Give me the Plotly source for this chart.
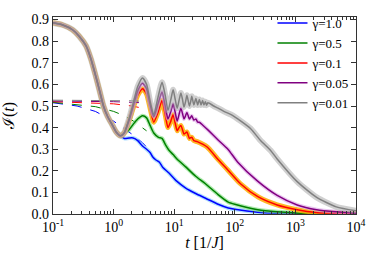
import plotly.graph_objects as go

# ---------------- data ----------------
GAMMA_LABELS = ["γ=1.0", "γ=0.5", "γ=0.1", "γ=0.05", "γ=0.01"]

# shared early-time part of all curves
T_EARLY = [0.1, 0.145, 0.21, 0.27, 0.35, 0.42, 0.475, 0.54, 0.6, 0.68, 0.8, 0.94, 1.1, 1.3]
I_EARLY = [0.885, 0.875, 0.853, 0.823, 0.779, 0.72, 0.668, 0.61, 0.56, 0.5, 0.45, 0.415, 0.38, 0.362]

T_BLUE = [1.5, 1.8, 2.1, 2.5, 3.0, 3.5, 4.0, 4.4, 5.0, 5.7, 6.5, 8.2, 11, 15.5, 22.6, 33, 53, 78, 100,
          240, 500, 1000, 3000, 10000]
I_BLUE = [0.35, 0.352, 0.352, 0.34, 0.315, 0.30, 0.285, 0.265, 0.25, 0.24, 0.215, 0.19, 0.152, 0.12,
          0.095, 0.073, 0.045, 0.028, 0.022, 0.008, 0.004, 0.002, 0.001, 0.0]

T_GREEN = [1.5, 1.8, 2.1, 2.5, 3.0, 3.5, 4.0, 4.6, 5.5, 6.3, 7.2, 8.2, 9.6, 11.1, 15.5, 22.6, 32.8,
           53, 78, 100, 240, 500, 1000, 3000, 10000]
I_GREEN = [0.375, 0.39, 0.415, 0.44, 0.455, 0.445, 0.41, 0.375, 0.355, 0.35, 0.32, 0.295, 0.275,
           0.255, 0.218, 0.175, 0.14, 0.09, 0.055, 0.045, 0.02, 0.01, 0.005, 0.002, 0.001]

T_RED = [1.5, 1.8, 2.1, 2.5, 3.0, 3.5, 4.0, 4.6, 5.4, 6.3, 7.1, 7.9, 8.8, 9.6, 10.4, 11.2, 12.0, 12.9,
         13.7, 14.5, 15.4, 16.2, 17.0, 17.8, 18.7, 19.5, 21.1, 24, 35, 52, 76, 124, 240, 500, 1070,
         2240, 4700, 10000]
I_RED = [0.375, 0.43, 0.49, 0.55, 0.58, 0.555, 0.49, 0.425, 0.47, 0.525, 0.46, 0.40, 0.43, 0.46, 0.42,
         0.385, 0.40, 0.41, 0.39, 0.37, 0.375, 0.38, 0.365, 0.35, 0.353, 0.355, 0.34, 0.335, 0.31,
         0.255, 0.205, 0.14, 0.08, 0.042, 0.02, 0.007, 0.003, 0.001]

T_PURPLE = [1.5, 1.8, 2.1, 2.5, 3.0, 3.5, 4.0, 4.6, 5.4, 6.3, 7.1, 7.9, 8.8, 9.6, 10.4, 11.2, 12.0,
            12.9, 13.7, 14.5, 15.4, 16.2, 17.0, 17.8, 18.7, 19.5, 21.1, 22.8, 24.4, 26, 30, 36.7, 53,
            77, 112, 238, 500, 1070, 2240, 4730, 10000]
I_PURPLE = [0.375, 0.435, 0.50, 0.57, 0.605, 0.58, 0.51, 0.45, 0.51, 0.565, 0.50, 0.44, 0.475, 0.51,
            0.47, 0.43, 0.46, 0.49, 0.465, 0.44, 0.455, 0.47, 0.455, 0.44, 0.448, 0.455, 0.435, 0.44,
            0.425, 0.425, 0.41, 0.387, 0.343, 0.30, 0.24, 0.152, 0.086, 0.042, 0.02, 0.01, 0.004]

T_GRAY = [1.5, 1.8, 2.1, 2.5, 3.0, 3.5, 4.0, 4.6, 5.4, 6.3, 7.1, 7.9, 8.8, 9.6, 10.4, 11.2, 12.0, 12.9,
          13.7, 14.5, 15.4, 16.2, 17.0, 17.8, 18.7, 19.5, 21.1, 22.8, 24.4, 26, 27.7, 29.4, 31, 32.7,
          34.3, 36, 45, 53, 66, 87, 126, 183, 266, 387, 500, 1070, 2240, 4730, 10000]
I_GRAY = [0.377, 0.44, 0.51, 0.59, 0.63, 0.60, 0.52, 0.46, 0.54, 0.61, 0.55, 0.48, 0.53, 0.575, 0.53,
          0.49, 0.525, 0.56, 0.53, 0.495, 0.52, 0.55, 0.525, 0.50, 0.52, 0.545, 0.505, 0.535, 0.505,
          0.53, 0.505, 0.525, 0.505, 0.52, 0.503, 0.515, 0.50, 0.49, 0.475, 0.46, 0.43, 0.395, 0.34,
          0.295, 0.255, 0.15, 0.077, 0.033, 0.015]

# dashed approximations
TD_BLUE = [0.1, 0.25, 0.5, 1.0, 1.5, 2.0, 3.0, 3.5]
ID_BLUE = [0.515, 0.50, 0.475, 0.43, 0.395, 0.37, 0.33, 0.31]
TD_GREEN = [0.1, 0.25, 0.5, 1.0, 1.5, 2.0, 3.0, 3.5]
ID_GREEN = [0.517, 0.507, 0.497, 0.475, 0.455, 0.435, 0.40, 0.385]
TD_RED = [0.1, 0.5, 1.0, 2.0, 3.0]
ID_RED = [0.52, 0.515, 0.51, 0.50, 0.49]
TD_PURPLE = [0.1, 1.0, 3.0]
ID_PURPLE = [0.523, 0.52, 0.515]
TD_GRAY = [0.1, 0.3, 1.0, 2.0, 3.0]
ID_GRAY = [0.527, 0.527, 0.526, 0.524, 0.522]

X_TICKS = [0.1, 1, 10, 100, 1000, 10000]
X_TICK_TEXT = ["10<sup>-1</sup>", "10<sup>0</sup>", "10<sup>1</sup>", "10<sup>2</sup>",
               "10<sup>3</sup>", "10<sup>4</sup>"]
Y_TICKS = [0.0, 0.1, 0.2, 0.3, 0.4, 0.5, 0.6, 0.7, 0.8, 0.9]

# ---------------- styling ----------------
LINE_COLORS = ["#0000ff", "#008000", "#ff0000", "#800080", "#808080"]
BAND_COLORS = ["rgba(120,200,255,0.6)", "rgba(120,220,120,0.6)", "rgba(255,170,0,0.85)",
               "rgba(220,160,230,0.6)", "rgba(170,170,170,0.55)"]
BAND_WIDTHS = [4, 4, 5, 4, 6]

series = [(T_BLUE, I_BLUE), (T_GREEN, I_GREEN), (T_RED, I_RED), (T_PURPLE, I_PURPLE), (T_GRAY, I_GRAY)]
dashed = [(TD_BLUE, ID_BLUE), (TD_GREEN, ID_GREEN), (TD_RED, ID_RED), (TD_PURPLE, ID_PURPLE),
          (TD_GRAY, ID_GRAY)]

SERIF = "Liberation Serif"

fig = go.Figure()

for k, ((ts, vs), (td, vd)) in enumerate(zip(series, dashed)):
    tt = T_EARLY + ts
    vv = I_EARLY + vs
    fig.add_trace(go.Scatter(x=td, y=vd, mode="lines", showlegend=False, hoverinfo="skip",
                             line=dict(color=LINE_COLORS[k], width=1, dash="10px,9px")))
    fig.add_trace(go.Scatter(x=tt, y=vv, mode="lines", showlegend=False, hoverinfo="skip",
                             line=dict(color=BAND_COLORS[k], width=BAND_WIDTHS[k], shape="spline",
                                       smoothing=0.6)))
    fig.add_trace(go.Scatter(x=tt, y=vv, mode="lines", name=GAMMA_LABELS[k],
                             line=dict(color=LINE_COLORS[k], width=1.5, shape="spline",
                                       smoothing=0.6)))

fig.update_layout(
    width=374, height=261,
    margin=dict(l=52, r=14, t=8, b=47),
    paper_bgcolor="white", plot_bgcolor="white",
    font=dict(family=SERIF, size=14, color="black"),
    showlegend=True,
    legend=dict(x=0.995, y=1.045, xanchor="right", yanchor="top", bgcolor="rgba(0,0,0,0)",
                font=dict(family=SERIF, size=13), tracegroupgap=0, itemwidth=30),
    xaxis=dict(type="log", range=[-1, 4], tickvals=X_TICKS, ticktext=X_TICK_TEXT,
               ticks="inside", ticklen=5, tickwidth=1, tickcolor="#333",
               showline=True, linecolor="#333", linewidth=1.2, mirror="allticks",
               showgrid=False, zeroline=False,
               minor=dict(ticks="inside", ticklen=2.5, tickcolor="#333", dtick="D1", showgrid=False),
               title=dict(text="<i>t</i> [1/<i>J</i>]", font=dict(size=16), standoff=2)),
    yaxis=dict(range=[0, 0.912], tickvals=Y_TICKS, tickformat=".1f",
               ticks="inside", ticklen=5, tickwidth=1, tickcolor="#333",
               showline=True, linecolor="#333", linewidth=1.2, mirror="allticks",
               showgrid=False, zeroline=False,
               title=dict(text="ℐ(<i>t</i>)", font=dict(size=16), standoff=12)),
)

fig.write_html("out.html", config={"displayModeBar": False},
               post_script="document.body.style.margin='0';")
